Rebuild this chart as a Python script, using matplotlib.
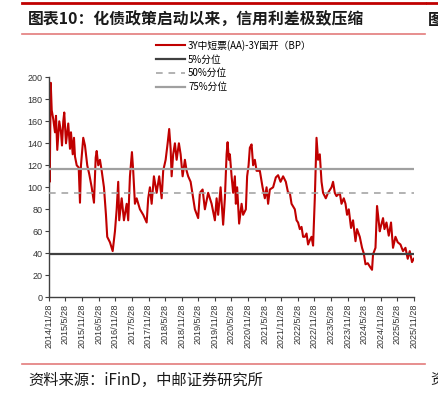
import pandas as pd
import matplotlib.pyplot as plt
from matplotlib.lines import Line2D

plt.rcParams['font.family'] = ['Noto Sans CJK SC', 'DejaVu Sans']

# 3Y中短票(AA)-3Y国开 (BP)
dates = [
    "2014-11-28", "2014-12-01", "2014-12-06", "2014-12-10", "2014-12-17", "2014-12-28",
    "2015-01-14", "2015-02-02", "2015-02-13", "2015-02-27", "2015-03-21", "2015-04-09",
    "2015-04-20", "2015-05-04", "2015-05-15", "2015-06-03", "2015-06-28", "2015-07-17",
    "2015-07-28", "2015-08-16", "2015-08-30", "2015-09-10", "2015-09-29", "2015-10-21",
    "2015-11-04", "2015-11-15", "2015-12-10", "2015-12-29", "2016-01-23", "2016-02-14",
    "2016-03-12", "2016-04-06", "2016-04-25", "2016-05-06", "2016-05-23", "2016-06-11",
    "2016-06-30", "2016-07-25", "2016-08-16", "2016-08-30", "2016-09-29", "2016-10-29",
    "2016-11-23", "2016-12-12", "2016-12-29", "2017-01-09", "2017-02-05", "2017-03-02",
    "2017-04-01", "2017-04-18", "2017-05-07", "2017-05-29", "2017-06-12", "2017-07-01",
    "2017-07-20", "2017-08-25", "2017-09-30", "2017-11-07", "2017-11-24", "2017-12-13",
    "2018-01-01", "2018-01-26", "2018-02-25", "2018-03-25", "2018-04-21", "2018-05-08",
    "2018-06-04", "2018-06-26", "2018-07-13", "2018-07-29", "2018-08-09", "2018-08-26",
    "2018-09-14", "2018-10-03", "2018-10-28", "2018-11-16", "2018-12-08", "2019-01-02",
    "2019-01-21", "2019-02-07", "2019-03-06", "2019-04-03", "2019-04-22", "2019-05-28",
    "2019-06-16", "2019-07-16", "2019-08-10", "2019-09-15", "2019-10-23", "2019-11-28",
    "2019-12-17", "2020-01-03", "2020-01-30", "2020-02-27", "2020-03-17", "2020-04-05",
    "2020-04-16", "2020-04-30", "2020-05-11", "2020-05-30", "2020-06-16", "2020-07-05",
    "2020-07-16", "2020-07-30", "2020-08-21", "2020-09-17", "2020-10-04", "2020-11-03",
    "2020-11-17", "2020-12-03", "2020-12-17", "2021-01-05", "2021-01-22", "2021-02-10",
    "2021-03-01", "2021-04-06", "2021-05-06", "2021-05-31", "2021-06-19", "2021-07-06",
    "2021-07-25", "2021-08-30", "2021-09-29", "2021-10-24", "2021-11-20", "2021-12-18",
    "2022-01-17", "2022-02-11", "2022-03-02", "2022-03-21", "2022-04-26", "2022-05-15",
    "2022-06-01", "2022-06-20", "2022-07-09", "2022-07-26", "2022-08-14", "2022-09-02",
    "2022-09-19", "2022-10-08", "2022-10-27", "2022-11-13", "2022-12-02", "2022-12-21",
    "2023-01-07", "2023-01-26", "2023-02-14", "2023-03-03", "2023-04-02", "2023-04-27",
    "2023-06-04", "2023-06-21", "2023-07-10", "2023-07-29", "2023-09-03", "2023-09-22",
    "2023-10-17", "2023-11-05", "2023-11-22", "2023-12-11", "2024-01-05", "2024-01-27",
    "2024-02-23", "2024-03-11", "2024-04-10", "2024-05-05", "2024-05-24", "2024-06-12",
    "2024-07-07", "2024-08-06", "2024-08-23", "2024-09-03", "2024-09-30", "2024-10-17",
    "2024-10-28", "2024-11-16", "2024-11-30", "2024-12-22", "2025-01-07", "2025-01-29",
    "2025-02-23", "2025-03-20", "2025-04-11", "2025-05-08", "2025-06-02", "2025-07-02",
    "2025-07-30", "2025-08-26", "2025-09-20", "2025-10-12", "2025-11-06", "2025-11-25",
]
spread = [
    100, 145, 105, 140, 195, 170,
    162, 150, 165, 134, 160, 150,
    138, 160, 168, 140, 158, 135,
    150, 130, 145, 128, 120, 118,
    86, 120, 145, 138, 120, 112,
    100, 86, 127, 133, 120, 125,
    115, 100, 75, 55, 50, 42,
    60, 80, 105, 70, 90, 70,
    85, 70, 110, 132, 115, 85,
    90, 80, 75, 68, 90, 100,
    85, 110, 95, 110, 90, 115,
    125, 140, 153, 135, 110, 130,
    140, 125, 140, 130, 110, 125,
    115, 110, 105, 90, 80, 72,
    95, 98, 80, 95, 85, 70,
    90, 75, 100, 66, 90, 130,
    141, 125, 130, 110, 95, 110,
    85, 100, 67, 85, 75, 80,
    110, 120, 136, 139, 120, 125,
    115, 115, 100, 90, 100, 85,
    98, 100, 109, 111, 105, 110,
    105, 95, 95, 85, 80, 70,
    68, 62, 64, 55, 55, 58,
    48, 52, 55, 47, 90, 145,
    125, 130, 105, 95, 90, 95,
    100, 105, 95, 92, 95, 85,
    90, 85, 75, 80, 63, 70,
    51, 62, 55, 45, 40, 30,
    31, 27, 25, 39, 45, 83,
    75, 60, 65, 72, 62, 68,
    56, 68, 45, 55, 50, 48,
    42, 45, 35, 42, 32, 35,
]
p5 = 39
p50 = 95
p75 = 116.5

labels = ["3Y中短票(AA)-3Y国开（BP）", "5%分位", "50%分位", "75%分位"]
tick_dates = pd.date_range("2014-11-28", "2025-11-28", freq=pd.DateOffset(months=6))
tick_labels = [f"{d.year}/{d.month}/{d.day}" for d in tick_dates]
y_ticks = list(range(0, 201, 20))

W, H = 439, 395
fig = plt.figure(figsize=(W / 100, H / 100), dpi=100)

# header / footer decoration
fig.add_artist(Line2D([22 / W, 425 / W], [1 - 3 / H, 1 - 3 / H], color="#C00000", lw=2))
fig.add_artist(Line2D([427 / W, 1], [1 - 3 / H, 1 - 3 / H], color="#C00000", lw=2))
fig.add_artist(Line2D([22 / W, 425 / W], [1 - 34.3 / H] * 2, color="#E37B7B", lw=1.2))
fig.add_artist(Line2D([22 / W, 425 / W], [1 - 364.3 / H] * 2, color="#E37B7B", lw=1.2))
fig.text(28 / W, 1 - 20 / H, "图表10：化债政策启动以来，信用利差极致压缩",
         fontsize=11.4, fontweight="bold", color="#1a1a1a", va="center", ha="left")
fig.text(428 / W, 1 - 20 / H, "图", fontsize=11.4, fontweight="bold", color="#1a1a1a",
         va="center", ha="left")
fig.text(28 / W, 1 - 380 / H, "资料来源：iFinD，中邮证券研究所",
         fontsize=11, color="#1a1a1a", va="center", ha="left")
fig.text(430 / W, 1 - 380 / H, "资", fontsize=11, color="#1a1a1a", va="center", ha="left")

ax = fig.add_axes([49 / W, 1 - 297.3 / H, 365 / W, 220 / H])
d = pd.to_datetime(dates)
ax.plot(d, spread, color="#C00000", lw=1.5, zorder=2, label=labels[0])
ax.axhline(p5, color="#404040", lw=1.6, zorder=3, label=labels[1])
ax.axhline(p50, color="#A6A6A6", lw=1.2, ls=(0, (4, 3.5)), zorder=3, label=labels[2])
ax.axhline(p75, color="#A0A0A0", lw=1.6, zorder=3, label=labels[3])

ax.set_xlim(tick_dates[0], tick_dates[-1])
ax.set_ylim(0, 200)
ax.set_yticks(y_ticks)
ax.set_yticklabels([str(v) for v in y_ticks], fontsize=6.5, family="Liberation Sans", color="#333333")
ax.set_xticks(tick_dates)
ax.set_xticklabels(tick_labels, rotation=90, fontsize=6.5, family="Liberation Sans", color="#333333")
ax.tick_params(axis="both", direction="out", length=3, width=0.8, color="#404040", pad=1.5)
for s in ["top", "right"]:
    ax.spines[s].set_visible(False)
for s in ["left", "bottom"]:
    ax.spines[s].set_color("#404040")
    ax.spines[s].set_linewidth(1.0)

fig.legend(loc="upper left", bbox_to_anchor=(156 / W, 1 - 39.7 / H), frameon=False,
           fontsize=7, handlelength=3.0, handletextpad=0.3, labelspacing=0.39,
           borderpad=0, borderaxespad=0)

fig.savefig("out.png", dpi=100)
